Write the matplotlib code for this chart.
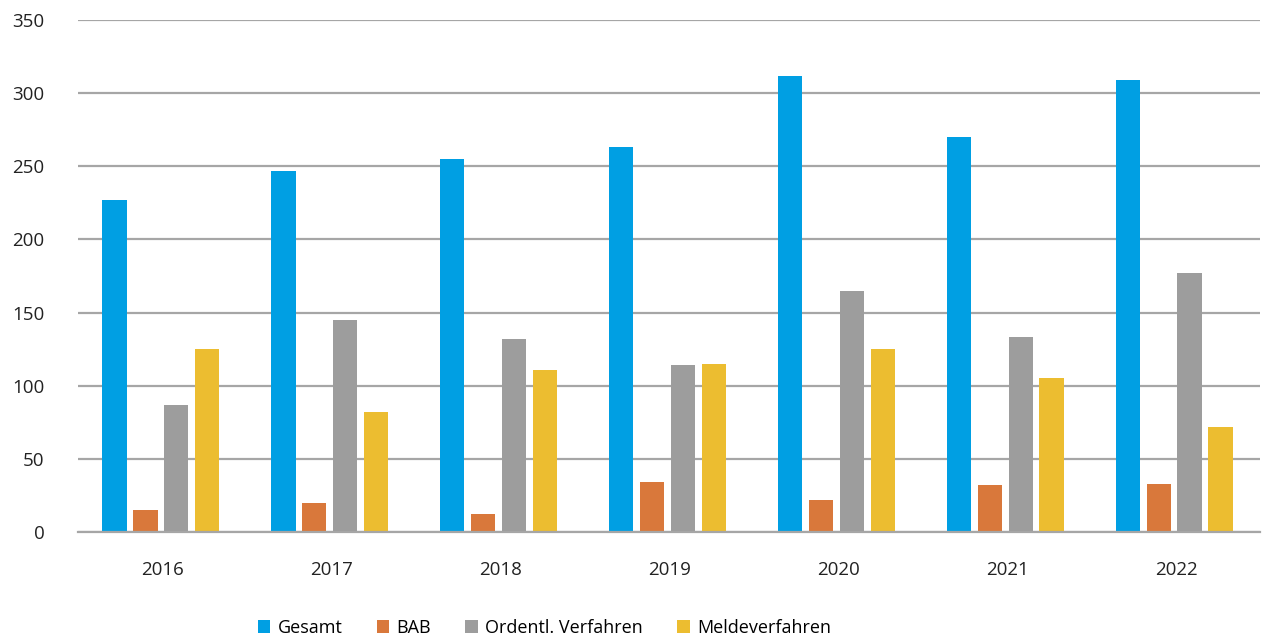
import numpy as np
import matplotlib.pyplot as plt

# ── Data ──────────────────────────────────────────────────────
years = ["2016", "2017", "2018", "2019", "2020", "2021", "2022"]
gesamt = [227, 247, 255, 263, 312, 270, 309]
bab = [15, 20, 12, 34, 22, 32, 33]
ordentl = [87, 145, 132, 114, 165, 133, 177]
melde = [125, 82, 111, 115, 125, 105, 72]

series = [
    ("Gesamt", gesamt, "#009FE3"),
    ("BAB", bab, "#D9783B"),
    ("Ordentl. Verfahren", ordentl, "#9D9D9D"),
    ("Meldeverfahren", melde, "#ECBD30"),
]

plt.rcParams["font.family"] = ["Open Sans", "DejaVu Sans"]

fig = plt.figure(figsize=(12.66, 6.44), dpi=100)
ax = fig.add_axes([0.0616, 0.174, 0.934, 0.795])

x = np.arange(len(years))
step = 0.183
width = 0.145
for i, (name, vals, col) in enumerate(series):
    ax.bar(x + (i - 1.5) * step - 0.01, vals, width, color=col, label=name, zorder=3)

ax.set_xlim(-0.5, len(years) - 0.5)
ax.set_ylim(0, 350)
ax.set_yticks(range(0, 351, 50))
ax.set_xticks(x)
ax.set_xticklabels(years)
ax.tick_params(axis="both", length=0, labelsize=13.5, colors="#222222")
ax.tick_params(axis="y", pad=24)
ax.tick_params(axis="x", pad=21)
ax.grid(axis="y", color="#A6A6A6", linewidth=1.6, zorder=0)
for s in ["top", "right", "left"]:
    ax.spines[s].set_visible(False)
ax.spines["bottom"].set_color("#A6A6A6")
ax.spines["bottom"].set_linewidth(1.6)
ax.spines["bottom"].set_zorder(4)

fig.legend(loc="center", bbox_to_anchor=(0.43, 0.025), ncol=4, frameon=False,
           fontsize=13, handlelength=0.7, handleheight=0.7, handletextpad=0.4,
           columnspacing=1.9)

fig.savefig("out.png", dpi=100)
